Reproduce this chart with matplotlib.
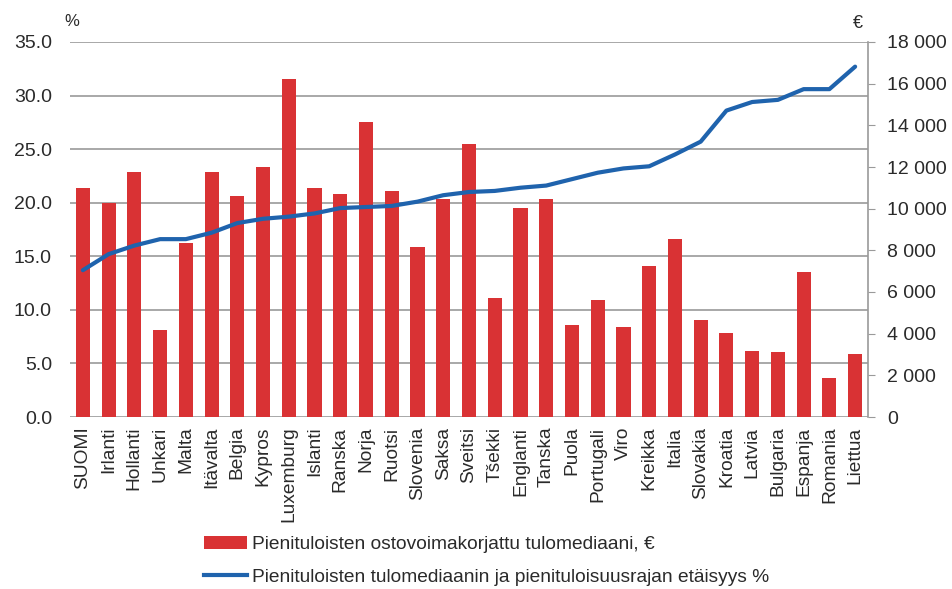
import matplotlib
matplotlib.use("Agg")
import matplotlib.pyplot as plt
from matplotlib.lines import Line2D
from matplotlib.patches import Patch
import numpy as np

plt.rcParams['font.family'] = ['Liberation Sans', 'DejaVu Sans']

countries = ["SUOMI", "Irlanti", "Hollanti", "Unkari", "Malta", "Itävalta", "Belgia", "Kypros",
             "Luxemburg", "Islanti", "Ranska", "Norja", "Ruotsi", "Slovenia", "Saksa", "Sveitsi",
             "Tšekki", "Englanti", "Tanska", "Puola", "Portugali", "Viro", "Kreikka", "Italia",
             "Slovakia", "Kroatia", "Latvia", "Bulgaria", "Espanja", "Romania", "Liettua"]
median_eur = [11000, 10290, 11780, 4180, 8340, 11780, 10620, 12020,
              16240, 11000, 10700, 14160, 10860, 8180, 10480, 13090,
              5710, 10020, 10480, 4420, 5630, 4340, 7260, 8560,
              4640, 4030, 3170, 3100, 6940, 1860, 3020]
gap_pct = [13.7, 15.2, 16.0, 16.6, 16.6, 17.2, 18.1, 18.5,
           18.7, 19.0, 19.5, 19.6, 19.7, 20.1, 20.7, 21.0,
           21.1, 21.4, 21.6, 22.2, 22.8, 23.2, 23.4, 24.5,
           25.7, 28.6, 29.4, 29.6, 30.6, 30.6, 32.7]
left_ticks = [0, 5, 10, 15, 20, 25, 30, 35]
right_ticks = [0, 2000, 4000, 6000, 8000, 10000, 12000, 14000, 16000, 18000]
bar_label = "Pienituloisten ostovoimakorjattu tulomediaani, €"
line_label = "Pienituloisten tulomediaanin ja pienituloisuusrajan etäisyys %"

RED = "#d93234"
BLUE = "#1f63ad"
GRID = "#9a9a9a"
TXT = "#2a2a2a"

fig = plt.figure(figsize=(9.52, 5.89), dpi=100)
ax1 = fig.add_axes([70/952, 1-417/589, (868-70)/952, (417-42)/589])
ax2 = ax1.twinx()

x = np.arange(len(countries))
ax1.set_xlim(-0.5, len(countries) - 0.5)
ax1.set_ylim(0, 35)
ax2.set_ylim(0, 18000)

# grid on the % axis (drawn below ax2 content)
for t in left_ticks:
    ax1.axhline(t, color=GRID, lw=1.2, zorder=0)

ax2.bar(x, median_eur, width=0.55, color=RED, zorder=2)
ax2.plot(x, gap_pct, color=BLUE, lw=3.0, transform=ax1.transData, zorder=3,
         solid_capstyle='round', solid_joinstyle='round')

ax1.set_yticks(left_ticks)
ax1.set_yticklabels([f"{t:.1f}" for t in left_ticks], fontsize=14, color=TXT)
ax1.tick_params(axis='y', length=0, pad=13)
ax2.set_yticks(right_ticks)
ax2.set_yticklabels([f"{t:,}".replace(",", " ") for t in right_ticks], fontsize=14, color=TXT)
ax2.tick_params(axis='y', length=5, color=GRID, pad=9)

ax1.set_xticks(x)
ax1.set_xticklabels(countries, rotation=90, fontsize=13.8, color=TXT)
ax1.tick_params(axis='x', length=0, pad=7)

for a in (ax1, ax2):
    for s in ("top", "left", "bottom"):
        a.spines[s].set_visible(False)
ax1.spines["right"].set_visible(False)
ax2.spines["right"].set_color(GRID)
ax2.spines["right"].set_linewidth(1.2)

fig.text(72/952, 1-22/589, "%", fontsize=12, color=TXT, ha='center', va='center')
fig.text(858/952, 1-24/589, "€", fontsize=13, color=TXT, ha='center', va='center')

handles = [Patch(facecolor=RED, edgecolor='none'),
           Line2D([0], [0], color=BLUE, lw=3)]
fig.legend(handles, [bar_label, line_label], loc='upper left',
           bbox_to_anchor=(204/952, 1-536/589), frameon=False, fontsize=13.8,
           borderpad=0, borderaxespad=0,
           handlelength=2.25, handletextpad=0.25, labelspacing=0.8,
           labelcolor=TXT)

fig.savefig("out.png", dpi=100)
